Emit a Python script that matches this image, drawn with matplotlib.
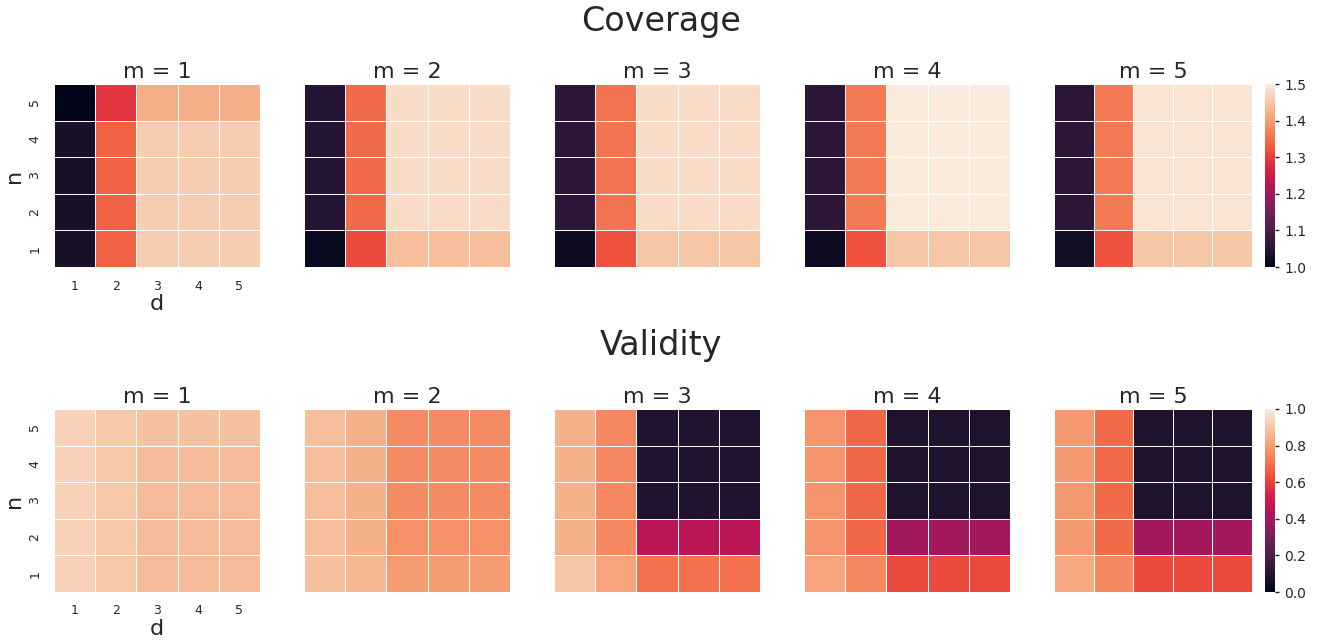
import matplotlib
matplotlib.use("Agg")
import matplotlib.pyplot as plt
import seaborn as sns
import numpy as np
import pandas as pd

sns.set_theme(style="white")

d_vals = [1, 2, 3, 4, 5]
n_vals = [5, 4, 3, 2, 1]  # top row first
m_vals = [1, 2, 3, 4, 5]

# coverage, rows are n = 5,4,3,2,1 ; columns d = 1..5
coverage = {
    1: [[1.00, 1.29, 1.42, 1.42, 1.42],
        [1.035, 1.335, 1.46, 1.46, 1.46],
        [1.035, 1.335, 1.46, 1.46, 1.46],
        [1.035, 1.335, 1.46, 1.46, 1.46],
        [1.035, 1.335, 1.46, 1.46, 1.46]],
    2: [[1.05, 1.345, 1.48, 1.48, 1.48],
        [1.05, 1.345, 1.48, 1.48, 1.48],
        [1.05, 1.345, 1.48, 1.48, 1.48],
        [1.05, 1.345, 1.48, 1.48, 1.48],
        [1.01, 1.31, 1.44, 1.44, 1.44]],
    3: [[1.06, 1.355, 1.48, 1.48, 1.48],
        [1.06, 1.355, 1.48, 1.48, 1.48],
        [1.06, 1.355, 1.48, 1.48, 1.48],
        [1.06, 1.355, 1.48, 1.48, 1.48],
        [1.02, 1.32, 1.45, 1.45, 1.45]],
    4: [[1.06, 1.36, 1.50, 1.50, 1.50],
        [1.06, 1.36, 1.50, 1.50, 1.50],
        [1.06, 1.36, 1.50, 1.50, 1.50],
        [1.06, 1.36, 1.50, 1.50, 1.50],
        [1.02, 1.32, 1.45, 1.45, 1.45]],
    5: [[1.06, 1.36, 1.49, 1.49, 1.49],
        [1.06, 1.36, 1.49, 1.49, 1.49],
        [1.06, 1.36, 1.49, 1.49, 1.49],
        [1.06, 1.36, 1.49, 1.49, 1.49],
        [1.025, 1.32, 1.45, 1.45, 1.45]],
}

validity = {
    1: [[0.93, 0.91, 0.89, 0.89, 0.89],
        [0.93, 0.905, 0.875, 0.875, 0.875],
        [0.93, 0.905, 0.875, 0.875, 0.875],
        [0.93, 0.905, 0.875, 0.875, 0.875],
        [0.93, 0.905, 0.875, 0.875, 0.875]],
    2: [[0.88, 0.85, 0.76, 0.76, 0.76],
        [0.88, 0.85, 0.76, 0.76, 0.76],
        [0.88, 0.85, 0.76, 0.76, 0.76],
        [0.88, 0.85, 0.77, 0.77, 0.77],
        [0.89, 0.86, 0.80, 0.80, 0.80]],
    3: [[0.85, 0.75, 0.09, 0.09, 0.09],
        [0.85, 0.75, 0.09, 0.09, 0.09],
        [0.85, 0.75, 0.09, 0.09, 0.09],
        [0.85, 0.75, 0.46, 0.46, 0.46],
        [0.90, 0.82, 0.70, 0.70, 0.70]],
    4: [[0.78, 0.68, 0.08, 0.08, 0.08],
        [0.78, 0.68, 0.08, 0.08, 0.08],
        [0.78, 0.68, 0.08, 0.08, 0.08],
        [0.78, 0.68, 0.41, 0.41, 0.41],
        [0.82, 0.75, 0.62, 0.62, 0.62]],
    5: [[0.79, 0.69, 0.08, 0.08, 0.08],
        [0.79, 0.69, 0.08, 0.08, 0.08],
        [0.79, 0.69, 0.08, 0.08, 0.08],
        [0.79, 0.69, 0.41, 0.41, 0.41],
        [0.83, 0.75, 0.62, 0.62, 0.62]],
}

W, H = 1322, 641
fig = plt.figure(figsize=(W / 100, H / 100), dpi=100)

lefts = [54, 304, 554, 804, 1054]
widths = [206, 206, 206, 206, 198]
rows = [
    ("Coverage", coverage, 1.0, 1.5, 84, 22),
    ("Validity", validity, 0.0, 1.0, 409, 346),
]
hm_h = 183

for title, data, vmin, vmax, top, ty in rows:
    fig.text(661 / W, 1 - ty / H, title, ha="center", va="center",
             fontsize=24, color="#262626")
    cax = fig.add_axes([1265 / W, 1 - (top + hm_h) / H, 10 / W, hm_h / H])
    for i, m in enumerate(m_vals):
        ax = fig.add_axes([lefts[i] / W, 1 - (top + hm_h) / H,
                           widths[i] / W, hm_h / H])
        df = pd.DataFrame(data[m], index=n_vals, columns=d_vals)
        sns.heatmap(df, ax=ax, vmin=vmin, vmax=vmax, cmap="rocket",
                    linewidths=0.6, linecolor="white",
                    cbar=(i == 4), cbar_ax=cax if i == 4 else None)
        ax.set_title(f"m = {m}", fontsize=16, color="#262626", pad=4)
        if i == 0:
            ax.set_xlabel("d", fontsize=16, color="#262626", labelpad=1)
            ax.set_ylabel("n", fontsize=16, color="#262626", labelpad=3)
            ax.tick_params(labelsize=9, colors="#262626", pad=3)
        else:
            ax.set_xticks([])
            ax.set_yticks([])
    cax.tick_params(labelsize=10, colors="#262626", length=3, width=1)

plt.savefig("out.png", dpi=100)
